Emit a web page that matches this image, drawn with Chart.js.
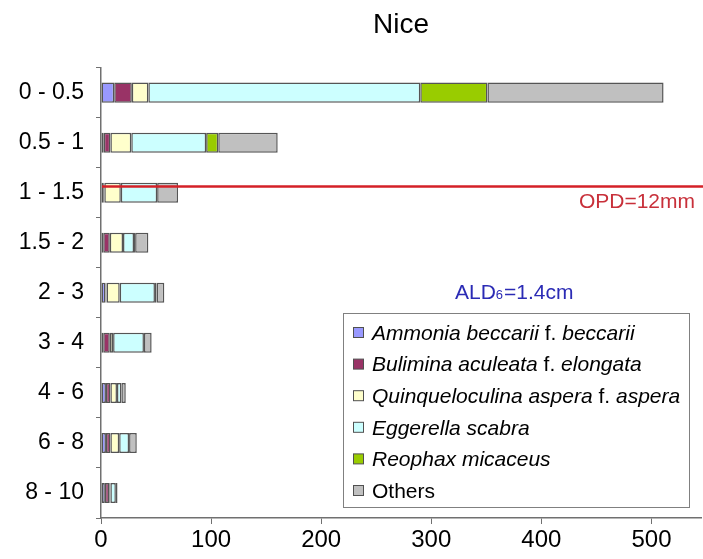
<!DOCTYPE html>
<html>
<head>
<meta charset="utf-8">
<script src="https://cdn.jsdelivr.net/npm/chart.js@4"></script>
<style>
  html, body { margin: 0; padding: 0; background: #fff; }
  #wrap { width: 703px; height: 559px; }
</style>
</head>
<body>
<div id="wrap"><canvas id="chart" width="703" height="559"></canvas></div>
<script>
// depth classes (cm)
const depths = ["0 - 0.5", "0.5 - 1", "1 - 1.5", "1.5 - 2", "2 - 3", "3 - 4", "4 - 6", "6 - 8", "8 - 10"];

// counts per species
const ammonia  = [12, 2.5, 2, 2, 4, 2, 4.5, 4.5, 3.5];
const bulimina = [16, 6, 1, 6, 1, 6, 4, 4, 4];
const quinque  = [15, 19, 15, 12, 12, 3, 6, 8, 1];
const eggerella = [247, 68, 33, 10, 32, 28, 4, 9, 5];
const reophax  = [61, 11, 0, 1, 1.5, 0, 0, 0, 0];
const others   = [160, 54, 19, 12, 7, 7, 4, 7, 1.5];

const seriesNames = ["Ammonia beccarii f. beccarii", "Bulimina aculeata f. elongata",
  "Quinqueloculina aspera f. aspera", "Eggerella scabra", "Reophax micaceus", "Others"];
const seriesColors = ["#9999ff", "#993366", "#ffffcc", "#ccffff", "#99cc00", "#c0c0c0"];

const xTicks = [0, 100, 200, 300, 400, 500];
const xMax = 545;

const opdLevel = 1.86;   // position on depth axis (category index)
const opdLabel = "OPD=12mm";

const allSeries = [ammonia, bulimina, quinque, eggerella, reophax, others];
const FONT = "'Liberation Sans', Arial, sans-serif";

// legend + annotation drawing
const extras = {
  id: "extras",
  afterDraw(chart) {
    const { ctx, chartArea, scales } = chart;
    const y = scales.y;
    ctx.save();

    // OPD line
    const y1 = y.getPixelForValue(1), y2 = y.getPixelForValue(2);
    const ly = Math.round(y1 + (y2 - y1) * (opdLevel - 1)) + 0.5;
    ctx.strokeStyle = "#d42027";
    ctx.lineWidth = 2.5;
    ctx.beginPath();
    ctx.moveTo(chartArea.left + 1, ly);
    ctx.lineTo(chart.width, ly);
    ctx.stroke();
    ctx.fillStyle = "#c8303a";
    ctx.font = "21px " + FONT;
    ctx.textAlign = "right";
    ctx.textBaseline = "middle";
    ctx.fillText(opdLabel, chart.width - 8, ly + 16);

    // ALD label
    ctx.fillStyle = "#2b2bb5";
    ctx.textAlign = "left";
    const ax = 455, ay = y.getPixelForValue(4);
    ctx.fillText("ALD", ax, ay);
    let w = ctx.measureText("ALD").width;
    ctx.font = "13px " + FONT;
    ctx.fillText("6", ax + w, ay + 3);
    w += ctx.measureText("6").width;
    ctx.font = "21px " + FONT;
    ctx.fillText("=1.4cm", ax + w + 1, ay);

    // legend box
    const bx = 343, by = 313, bw = 346, bh = 194;
    ctx.fillStyle = "#fff";
    ctx.fillRect(bx, by, bw, bh);
    ctx.strokeStyle = "#808080";
    ctx.lineWidth = 1;
    ctx.strokeRect(bx + 0.5, by + 0.5, bw, bh);
    seriesNames.forEach((name, i) => {
      const cy = by + 20 + i * 31.6;
      ctx.fillStyle = seriesColors[i];
      ctx.fillRect(bx + 10.5, cy - 5.5, 10, 10);
      ctx.strokeStyle = "#505050";
      ctx.strokeRect(bx + 10.5, cy - 5.5, 10, 10);
      // italic species names, regular "f." and "Others"
      const parts = name === "Others" ? [[name, false]]
        : name.split(" f. ").flatMap((p, k) => k ? [[" f. ", false], [p, true]] : [[p, true]]);
      let tx = bx + 29;
      ctx.fillStyle = "#000";
      ctx.textAlign = "left";
      parts.forEach(([t, it]) => {
        ctx.font = (it ? "italic " : "") + "21px " + FONT;
        ctx.fillText(t, tx, cy + 1);
        tx += ctx.measureText(t).width;
      });
    });
    ctx.restore();
  }
};

new Chart(document.getElementById("chart"), {
  type: "bar",
  data: {
    labels: depths,
    datasets: allSeries.map((d, i) => ({
      label: seriesNames[i],
      data: d,
      backgroundColor: seriesColors[i],
      borderColor: "#555555",
      borderWidth: 1.5,
      borderSkipped: false,
      barPercentage: 0.4,
      categoryPercentage: 1
    }))
  },
  options: {
    indexAxis: "y",
    responsive: false,
    animation: false,
    layout: { padding: { top: 0, right: 2, bottom: 0, left: 0 } },
    plugins: {
      legend: { display: false },
      tooltip: { enabled: false },
      title: {
        display: true,
        fullSize: false,
        text: "Nice",
        color: "#000",
        font: { size: 28, weight: "normal", family: FONT },
        padding: { top: 8, bottom: 26 }
      }
    },
    scales: {
      x: {
        stacked: true,
        min: 0,
        max: xMax,
        afterBuildTicks: s => { s.ticks = xTicks.map(v => ({ value: v })); },
        afterFit: s => { s.height = 41; },
        border: { color: "#707070", width: 1.5 },
        grid: { drawOnChartArea: false, drawTicks: true, tickLength: 6, color: "#707070" },
        ticks: {
          color: "#000",
          padding: 2,
          font: { size: 24, family: FONT }
        }
      },
      y: {
        stacked: true,
        afterFit: s => { s.width = 101; },
        border: { color: "#707070", width: 1.5 },
        grid: { offset: true, drawOnChartArea: false, drawTicks: true, tickLength: 5, color: "#707070" },
        ticks: {
          color: "#000",
          padding: 12,
          font: { size: 23, family: FONT }
        }
      }
    }
  },
  plugins: [extras]
});
</script>
</body>
</html>
